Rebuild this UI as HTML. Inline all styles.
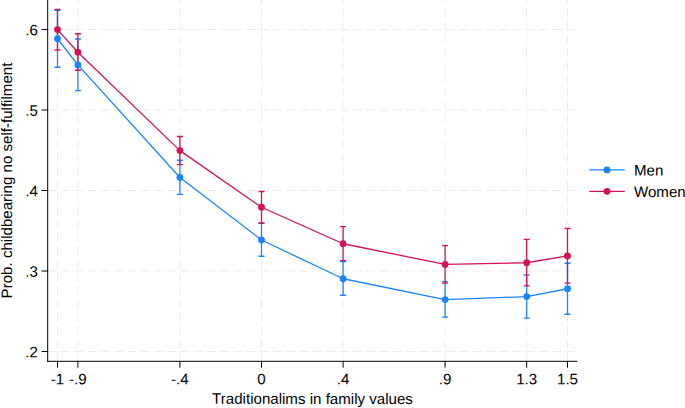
<!DOCTYPE html>
<html lang="en"><head><meta charset="utf-8"><title>Traditionalism and childbearing</title>
<style>
html,body{margin:0;padding:0;background:#fff;}
body{width:685px;height:408px;overflow:hidden;}
svg{display:block;}
svg text{font-family:"Liberation Sans",Arial,sans-serif;font-size:15.1px;fill:#000;text-rendering:geometricPrecision;}
</style></head><body>
<svg width="685" height="408" viewBox="0 0 685 408">
<rect width="685" height="408" fill="#fff"/>
<g stroke="#ececec" stroke-width="1" stroke-dasharray="8.82 4.45" fill="none">
<line x1="47.9" y1="29.5" x2="577.2" y2="29.5"/>
<line x1="47.9" y1="110" x2="577.2" y2="110"/>
<line x1="47.9" y1="190.5" x2="577.2" y2="190.5"/>
<line x1="47.9" y1="271" x2="577.2" y2="271"/>
<line x1="47.9" y1="351.5" x2="577.2" y2="351.5"/>
<line x1="57.5" y1="-5.2" x2="57.5" y2="361.3"/>
<line x1="77.9" y1="-5.2" x2="77.9" y2="361.3"/>
<line x1="179.9" y1="-5.2" x2="179.9" y2="361.3"/>
<line x1="261.5" y1="-5.2" x2="261.5" y2="361.3"/>
<line x1="343.1" y1="-5.2" x2="343.1" y2="361.3"/>
<line x1="445.1" y1="-5.2" x2="445.1" y2="361.3"/>
<line x1="526.7" y1="-5.2" x2="526.7" y2="361.3"/>
<line x1="567.5" y1="-5.2" x2="567.5" y2="361.3"/>
</g>
<g stroke="#000" stroke-width="1" fill="none">
<line x1="47.7" y1="0" x2="47.7" y2="361.85"/>
<line x1="47.15" y1="361.3" x2="577.2" y2="361.3"/>
<line x1="41.6" y1="29.5" x2="47.7" y2="29.5"/>
<line x1="41.6" y1="110" x2="47.7" y2="110"/>
<line x1="41.6" y1="190.5" x2="47.7" y2="190.5"/>
<line x1="41.6" y1="271" x2="47.7" y2="271"/>
<line x1="41.6" y1="351.5" x2="47.7" y2="351.5"/>
<line x1="57.5" y1="361.3" x2="57.5" y2="367.7"/>
<line x1="77.9" y1="361.3" x2="77.9" y2="367.7"/>
<line x1="179.9" y1="361.3" x2="179.9" y2="367.7"/>
<line x1="261.5" y1="361.3" x2="261.5" y2="367.7"/>
<line x1="343.1" y1="361.3" x2="343.1" y2="367.7"/>
<line x1="445.1" y1="361.3" x2="445.1" y2="367.7"/>
<line x1="526.7" y1="361.3" x2="526.7" y2="367.7"/>
<line x1="567.5" y1="361.3" x2="567.5" y2="367.7"/>
</g>
<g stroke="#1a85ff" stroke-width="1.3" fill="none">
<path d="M57.5 10.3V67.25M54.5 10.3h6M54.5 67.25h6"/>
<path d="M77.9 39V90.6M74.9 39h6M74.9 90.6h6"/>
<path d="M179.9 160.25V194.4M176.9 160.25h6M176.9 194.4h6"/>
<path d="M261.5 223.3V256.25M258.5 223.3h6M258.5 256.25h6"/>
<path d="M343.1 261.6V295.25M340.1 261.6h6M340.1 295.25h6"/>
<path d="M445.1 281.6V317.1M442.1 281.6h6M442.1 317.1h6"/>
<path d="M526.7 275V318.1M523.7 275h6M523.7 318.1h6"/>
<path d="M567.5 263.25V314.25M564.5 263.25h6M564.5 314.25h6"/>
</g>
<g stroke="#d41159" stroke-width="1.3" fill="none">
<path d="M57.5 9.4V50M54.5 9.4h6M54.5 50h6"/>
<path d="M77.9 33.75V70.25M74.9 33.75h6M74.9 70.25h6"/>
<path d="M179.9 136.5V164.6M176.9 136.5h6M176.9 164.6h6"/>
<path d="M261.5 191.5V223M258.5 191.5h6M258.5 223h6"/>
<path d="M343.1 226.6V260.7M340.1 226.6h6M340.1 260.7h6"/>
<path d="M445.1 245.6V283.1M442.1 245.6h6M442.1 283.1h6"/>
<path d="M526.7 239.4V285.9M523.7 239.4h6M523.7 285.9h6"/>
<path d="M567.5 228.5V283.1M564.5 228.5h6M564.5 283.1h6"/>
</g>
<polyline fill="none" stroke="#1a85ff" stroke-width="1.3" stroke-linejoin="round" points="57.5,38.75 77.9,64.9 179.9,177.5 261.5,240 343.1,278.75 445.1,299.6 526.7,296.6 567.5,288.75"/>
<g fill="#1a85ff">
<circle cx="57.5" cy="38.75" r="3.4"/>
<circle cx="77.9" cy="64.9" r="3.4"/>
<circle cx="179.9" cy="177.5" r="3.4"/>
<circle cx="261.5" cy="240" r="3.4"/>
<circle cx="343.1" cy="278.75" r="3.4"/>
<circle cx="445.1" cy="299.6" r="3.4"/>
<circle cx="526.7" cy="296.6" r="3.4"/>
<circle cx="567.5" cy="288.75" r="3.4"/>
</g>
<polyline fill="none" stroke="#d41159" stroke-width="1.3" stroke-linejoin="round" points="57.5,29.6 77.9,52.25 179.9,150.6 261.5,207.25 343.1,243.75 445.1,264.4 526.7,262.75 567.5,255.9"/>
<g fill="#d41159">
<circle cx="57.5" cy="29.6" r="3.4"/>
<circle cx="77.9" cy="52.25" r="3.4"/>
<circle cx="179.9" cy="150.6" r="3.4"/>
<circle cx="261.5" cy="207.25" r="3.4"/>
<circle cx="343.1" cy="243.75" r="3.4"/>
<circle cx="445.1" cy="264.4" r="3.4"/>
<circle cx="526.7" cy="262.75" r="3.4"/>
<circle cx="567.5" cy="255.9" r="3.4"/>
</g>
<text x="37.8" y="35.2" text-anchor="end" transform="matrix(1 0.0005 0 1 0 -0.0189)">.6</text>
<text x="37.8" y="115.7" text-anchor="end" transform="matrix(1 0.0005 0 1 0 -0.0189)">.5</text>
<text x="37.8" y="196.2" text-anchor="end" transform="matrix(1 0.0005 0 1 0 -0.0189)">.4</text>
<text x="37.8" y="276.7" text-anchor="end" transform="matrix(1 0.0005 0 1 0 -0.0189)">.3</text>
<text x="37.8" y="357.2" text-anchor="end" transform="matrix(1 0.0005 0 1 0 -0.0189)">.2</text>
<text x="57.5" y="384.3" text-anchor="middle" transform="matrix(1 0.0005 0 1 0 -0.0288)">-1</text>
<text x="77.9" y="384.3" text-anchor="middle" transform="matrix(1 0.0005 0 1 0 -0.0390)">-.9</text>
<text x="179.9" y="384.3" text-anchor="middle" transform="matrix(1 0.0005 0 1 0 -0.0900)">-.4</text>
<text x="261.5" y="384.3" text-anchor="middle" transform="matrix(1 0.0005 0 1 0 -0.1308)">0</text>
<text x="343.1" y="384.3" text-anchor="middle" transform="matrix(1 0.0005 0 1 0 -0.1716)">.4</text>
<text x="445.1" y="384.3" text-anchor="middle" transform="matrix(1 0.0005 0 1 0 -0.2226)">.9</text>
<text x="526.7" y="384.3" text-anchor="middle" transform="matrix(1 0.0005 0 1 0 -0.2634)">1.3</text>
<text x="567.5" y="384.3" text-anchor="middle" transform="matrix(1 0.0005 0 1 0 -0.2838)">1.5</text>
<text x="312.5" y="403.9" text-anchor="middle" transform="matrix(1 0.0005 0 1 0 -0.1562)">Traditionalims in family values</text>
<text text-anchor="middle" transform="translate(11.85 180.5) rotate(-90)">Prob. childbearing no self-fulfilment</text>
<line x1="589.3" y1="169.9" x2="624.8" y2="169.9" stroke="#1a85ff" stroke-width="1.3"/><circle cx="607" cy="169.9" r="3.4" fill="#1a85ff"/>
<line x1="589.3" y1="191.3" x2="624.8" y2="191.3" stroke="#d41159" stroke-width="1.3"/><circle cx="607" cy="191.3" r="3.4" fill="#d41159"/>
<text x="634" y="175.5" text-anchor="start" transform="matrix(1 0.0005 0 1 0 -0.3170)">Men</text>
<text x="634" y="196.9" text-anchor="start" transform="matrix(1 0.0005 0 1 0 -0.3170)">Women</text>
</svg></body></html>
